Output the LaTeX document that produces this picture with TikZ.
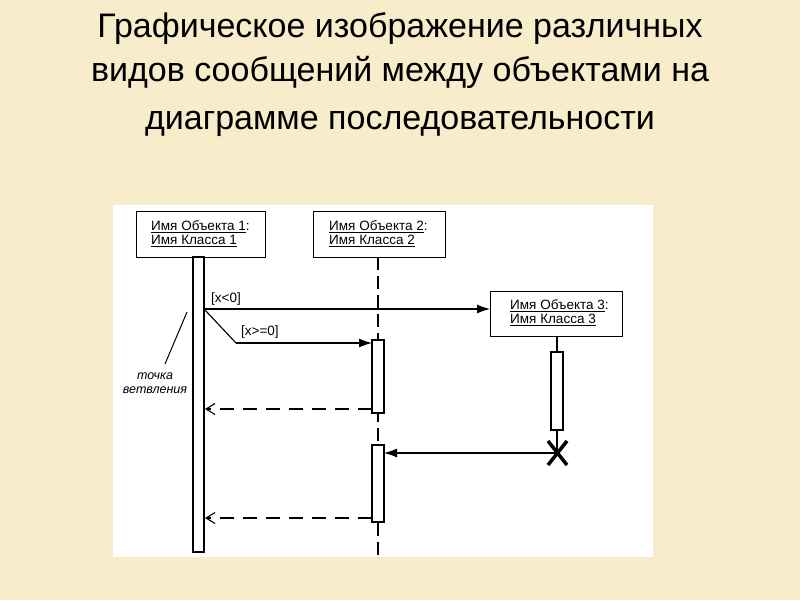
\documentclass[tikz,border=0pt]{standalone}
\usepackage{fontspec}
\setmainfont{Liberation Sans}
\usetikzlibrary{arrows.meta}
\definecolor{bg}{HTML}{F7EDCB}
\tikzset{
 obj/.style={draw,line width=1.2pt,fill=white,inner sep=0pt},
 bar/.style={draw,line width=1.1pt,fill=white},
 msg/.style={line width=1.1pt,-{Latex[length=13pt,width=9pt]}},
 ret/.style={line width=1.1pt,dash pattern=on 14pt off 9pt,-{Straight Barb[length=9pt,width=11pt]}},
 lbl/.style={font=\fontsize{13.5}{14}\selectfont,inner sep=1pt},
 ttl/.style={font=\fontsize{34}{38}\selectfont,inner sep=0pt},
}
\begin{document}
\begin{tikzpicture}[x=1pt,y=-1pt]
\fill[bg] (0,0) rectangle (800,600);
\useasboundingbox (0,0) rectangle (800,600);
\node[ttl] (t1) at (400,29) {Графическое изображение различных};
\node[ttl] (t2) at (400,72) {видов сообщений между объектами на};
\node[ttl] (t3) at (400,124) {диаграмме последовательности};
\fill[white] (113,205) rectangle (653,557);
% objects
\node[obj,minimum width=129pt,minimum height=46pt,anchor=north west] (o1) at (136,211) {};
\node[lbl,align=left,anchor=west] at (150,234) {\underline{Имя\ Объекта 1}:\\\underline{Имя\ Класса\ 1}};
\node[obj,minimum width=132pt,minimum height=46pt,anchor=north west] (o2) at (313,211) {};
\node[lbl,align=left,anchor=west] at (328,234) {\underline{Имя\ Объекта 2}:\\\underline{Имя\ Класса\ 2}};
\node[obj,minimum width=132pt,minimum height=45pt,anchor=north west] (o3) at (490,291) {};
\node[lbl,align=left,anchor=west] at (509,313) {\underline{Имя\ Объекта 3}:\\\underline{Имя\ Класса 3}};
% lifelines
\draw[bar] (193,257) rectangle (204,552);
\draw[line width=1.1pt,dash pattern=on 13pt off 6pt] (378,257) -- (378,557);
\draw[bar] (372,340) rectangle (384,413);
\draw[bar] (372,445) rectangle (384,522);
\draw[line width=1.1pt] (557,336) -- (557,352);
\draw[bar] (551,352) rectangle (563,430);
\draw[line width=1.1pt] (557,430) -- (557,453);
\coordinate (x) at (557,453);
\draw[line width=3.5pt] (548,441) -- (567,465) (567,441) -- (548,465);
% messages
\coordinate (b1) at (204,309);
\draw[msg] (b1) -- (490,309);
\node[lbl,anchor=south west] at (210,306) {[x<0]};
\draw[line width=1.1pt] (b1) -- (236,343);
\draw[msg] (236,343) -- (372,343);
\node[lbl,anchor=south west] at (240,339) {[x>=0]};
\draw[ret] (372,409) -- (205,409);
\draw[ret] (372,518) -- (205,518);
\draw[msg] (x) -- (384,453);
% annotation
\draw[line width=1pt] (187,312) -- (165,364);
\node[lbl,align=center,font=\fontsize{12.5}{14}\selectfont\itshape] at (155,383) {точка\\ветвления};
\end{tikzpicture}
\end{document}
